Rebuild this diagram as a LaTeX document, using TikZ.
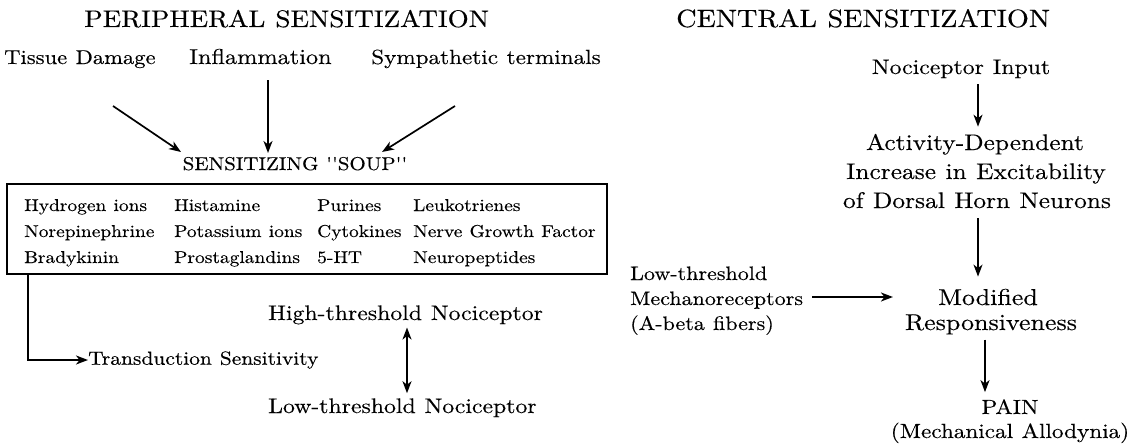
\documentclass[tikz,border=0pt]{standalone}
\usepackage{fontspec}
\newfontfamily\wide{lmroman10-regular.otf}[FakeStretch=1.13,FakeBold=0.3]
\usetikzlibrary{arrows.meta}
\newcommand\fsz[1]{\wide\fontsize{#1}{#1}\selectfont\spaceskip=.42em\relax}
\begin{document}
\begin{tikzpicture}[x=1pt,y=-1pt,
  txt/.style={inner sep=0pt,anchor=base,font=\fsz{#1}},
  txt/.default=21,
  bt/.style={inner sep=0pt,anchor=base west,font=\fsz{17.2}},
  arr/.style={line width=1.7pt,-{Stealth[length=12pt,width=9pt,inset=3.5pt]}},
  darr/.style={line width=1.7pt,{Stealth[length=12pt,width=9pt,inset=3.5pt]}-{Stealth[length=12pt,width=9pt,inset=3.5pt]}},
  soupbox/.style={draw,line width=1.7pt,inner sep=0pt}]
\useasboundingbox (0,0) rectangle (1130,444);
% titles
\node[txt=24,anchor=base west] (ptitle) at (84,27) {PERIPHERAL SENSITIZATION};
\node[txt=25,anchor=base west] (ctitle) at (676,27) {CENTRAL SENSITIZATION};
% peripheral
\node[txt=20,anchor=base west] (tissue) at (4,64) {Tissue Damage};
\node[txt=21.5,anchor=base west] (inflam) at (189,64) {Inflammation};
\node[txt=20.5,anchor=base east] (symp) at (601,64) {Sympathetic terminals};
\node[txt=18.5] (soup) at (295,170) {SENSITIZING ''SOUP''};
\node[soupbox,minimum width=600pt,minimum height=90pt] (box) at (307,229) {};
\node[bt] (r1c1) at (24,211) {Hydrogen ions};
\node[bt] (r2c1) at (24,237) {Norepinephrine};
\node[bt] (r3c1) at (24,263) {Bradykinin};
\node[bt] (r1c2) at (174,211) {Histamine};
\node[bt] (r2c2) at (174,237) {Potassium ions};
\node[bt] (r3c2) at (174,263) {Prostaglandins};
\node[bt] (r1c3) at (317,211) {Purines};
\node[bt] (r2c3) at (317,237) {Cytokines};
\node[bt] (r3c3) at (317,263) {5-HT};
\node[bt] (r1c4) at (413,211) {Leukotrienes};
\node[bt] (r2c4) at (413,237) {Nerve Growth Factor};
\node[bt] (r3c4) at (413,263) {Neuropeptides};
\node[txt=19,anchor=west] (transd) at (88,360) {Transduction Sensitivity};
\node[txt=21,anchor=base west] (high) at (268,320) {High-threshold Nociceptor};
\node[txt=21,anchor=base west] (low) at (268,413) {Low-threshold Nociceptor};
\coordinate (t1) at (113,106);
\coordinate (t2) at (181,152);
\coordinate (s1) at (455,106);
\coordinate (s2) at (382,152);
\coordinate (i2) at (268,153);
\draw[arr] (t1) -- (t2);
\draw[arr] (inflam.south -| i2) ++(0,16) -- (i2);
\draw[arr] (s1) -- (s2);
\draw[arr] (box.south -| 28,0) -- (28,360) -- (transd.west);
\draw[darr] ([yshift=-3pt]high.south -| 407,0) -- ([yshift=5pt]low.north -| 407,0);
% central
\node[txt=21] (ninput) at (961,74) {Nociceptor Input};
\node[txt=22.5] (act1) at (975,150) {Activity-Dependent};
\node[txt=22.5] (act2) at (976,179) {Increase in Excitability};
\node[txt=22.5] (act3) at (977,208) {of Dorsal Horn Neurons};
\node[txt=19.5,anchor=base west] (lm1) at (630,280) {Low-threshold};
\node[txt=19.5,anchor=base west] (lm2) at (630,305) {Mechanoreceptors};
\node[txt=19.5,anchor=base west] (lm3) at (630,330) {(A-beta fibers)};
\node[txt=23] (mod1) at (988,305) {Modified};
\node[txt=23] (mod2) at (991,330) {Responsiveness};
\node[txt=20.5] (pain1) at (1010,414) {PAIN};
\node[txt=20.5] (pain2) at (1010,438) {(Mechanical Allodynia)};
\draw[arr] ([yshift=-6pt]ninput.south -| 978,0) -- ([yshift=7pt]act1.north -| 978,0);
\draw[arr] ([yshift=-10pt]act3.south -| 978,0) -- ([yshift=12pt]mod1.north -| 978,0);
\draw[arr] ([xshift=9pt]lm2.east |- 0,297) -- ([xshift=-45pt]mod1.west |- 0,297);
\draw[arr] ([yshift=-5pt]mod2.south -| 985,0) -- ([yshift=7pt]pain1.north -| 985,0);
\end{tikzpicture}
\end{document}
